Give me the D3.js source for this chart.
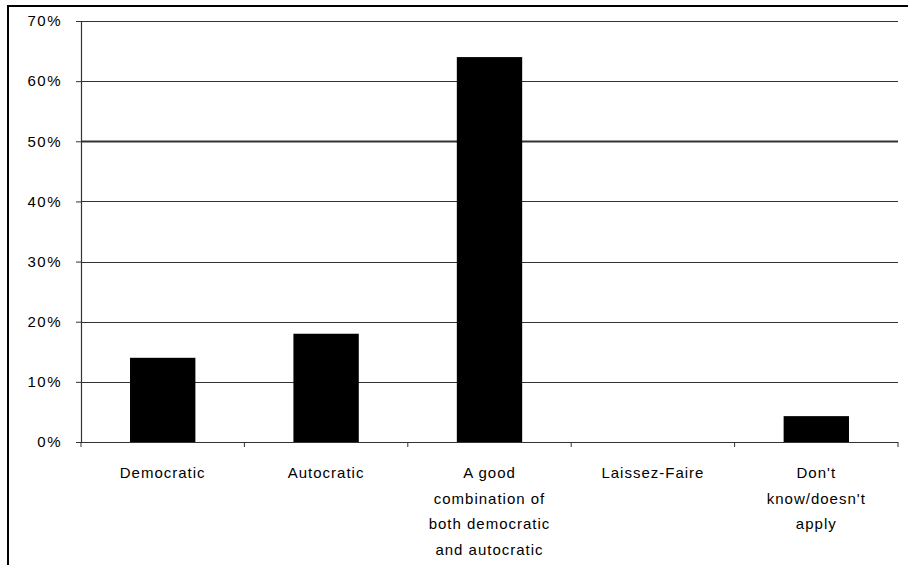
<!DOCTYPE html>
<html>
<head>
<meta charset="utf-8">
<script src="https://cdn.jsdelivr.net/npm/d3@7"></script>
<style>
  html, body { margin: 0; padding: 0; background: #fff; }
  svg { display: block; }
  text { font-family: "Liberation Sans", Arial, sans-serif; fill: #000; }
</style>
</head>
<body>
<svg id="chart" width="908" height="565"></svg>
<script>
const categories = ["Democratic", "Autocratic", "A good combination of both democratic and autocratic", "Laissez-Faire", "Don't know/doesn't apply"];
const labelLines = [["Democratic"], ["Autocratic"], ["A good", "combination of", "both democratic", "and autocratic"], ["Laissez-Faire"], ["Don't", "know/doesn't", "apply"]];
const values = [14, 18, 64, 0, 4.3];
const yTicks = [0, 10, 20, 30, 40, 50, 60, 70];

const svg = d3.select("#chart");
const W = 908, H = 565;
const margin = { left: 81, right: 10, top: 21, bottom: 123 };

// outer frame
svg.append("rect")
  .attr("x", 8).attr("y", 6)
  .attr("width", W + 20).attr("height", H + 20)
  .attr("fill", "none").attr("stroke", "#000").attr("stroke-width", 2);

const x = d3.scaleBand().domain(categories).range([margin.left, W - margin.right]).paddingInner(0.6).paddingOuter(0.3);
const y = d3.scaleLinear().domain([0, 70]).range([H - margin.bottom, margin.top]);

// gridlines
svg.append("g").selectAll("line").data(yTicks.filter(d => d > 0)).join("line")
  .attr("x1", margin.left).attr("x2", W - margin.right)
  .attr("y1", d => Math.round(y(d)) + 0.5).attr("y2", d => Math.round(y(d)) + 0.5)
  .attr("stroke", "#333").attr("stroke-width", d => d === 50 ? 2 : 1.2);

// bars
svg.append("g").selectAll("rect").data(values).join("rect")
  .attr("x", (d, i) => x(categories[i]))
  .attr("width", x.bandwidth())
  .attr("y", d => y(d))
  .attr("height", d => y(0) - y(d))
  .attr("fill", "#000");

// y axis
const yAxis = svg.append("g").attr("transform", `translate(${margin.left},0)`)
  .call(d3.axisLeft(y).tickValues(yTicks).tickFormat(d => d + "%").tickSize(5).tickPadding(14));
yAxis.select(".domain").attr("stroke", "#333").attr("stroke-width", 1.2);
yAxis.selectAll(".tick line").attr("stroke", "#333");
yAxis.selectAll("text").attr("font-size", 15).attr("letter-spacing", "1.5px")
  .style("font-family", "'Liberation Sans', Arial, sans-serif").attr("fill", "#000");

// x axis
const x0 = margin.left, x1 = W - margin.right;
const xg = svg.append("g");
xg.append("line").attr("x1", x0).attr("x2", x1)
  .attr("y1", Math.round(y(0)) + 0.5).attr("y2", Math.round(y(0)) + 0.5)
  .attr("stroke", "#333").attr("stroke-width", 1.2);
const boundaries = d3.range(categories.length + 1).map(i => x0 + i * (x1 - x0) / categories.length);
xg.selectAll("line.tk").data(boundaries).join("line").attr("class", "tk")
  .attr("x1", d => d).attr("x2", d => d)
  .attr("y1", y(0)).attr("y2", y(0) + 5)
  .attr("stroke", "#333");

// category labels
const lab = svg.append("g");
labelLines.forEach((lines, i) => {
  const cx = x(categories[i]) + x.bandwidth() / 2;
  const t = lab.append("text").attr("text-anchor", "middle")
    .attr("font-size", 15).attr("letter-spacing", "1px");
  lines.forEach((ln, j) => {
    t.append("tspan").attr("x", cx).attr("y", 478 + j * 25.7).text(ln);
  });
});
</script>
</body>
</html>
